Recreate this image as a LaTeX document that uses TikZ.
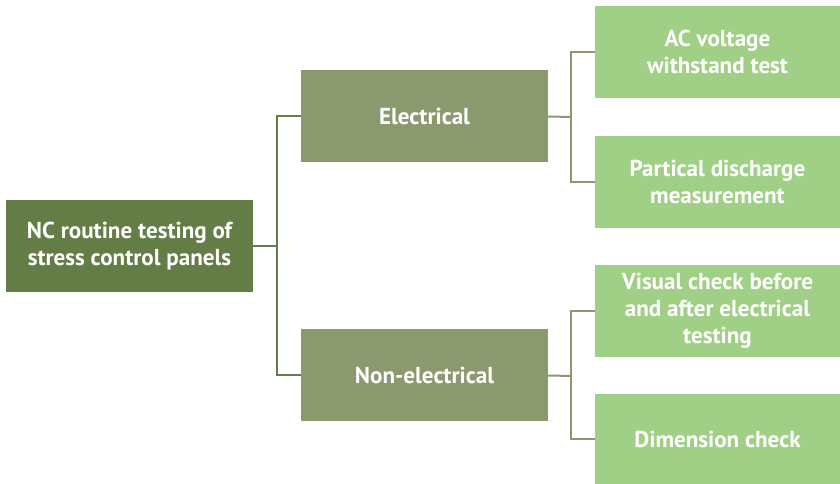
\documentclass[tikz,border=0pt]{standalone}
\usepackage{fontspec}
\setmainfont{PT Sans}
\usepackage{xcolor}
\usepackage{tikz}

\definecolor{rootgreen}{RGB}{100,124,69}
\definecolor{midgreen}{RGB}{138,154,110}
\definecolor{leafgreen}{RGB}{160,207,134}

\tikzset{
  box/.style={rectangle, inner sep=0pt, outer sep=0pt, text=white,
    font=\bfseries\fontsize{17.3}{20.3}\selectfont, align=center,
    minimum width=185.25pt, minimum height=69pt},
  rootbox/.style={box, fill=rootgreen},
  midbox/.style={box, fill=midgreen},
  leafbox/.style={box, fill=leafgreen, minimum width=183.75pt},
  darkline/.style={draw=rootgreen, line width=1.5pt},
  lightline/.style={draw=midgreen, line width=1.5pt}
}

\begin{document}
\begin{tikzpicture}[x=0.75pt, y=-0.75pt]
\useasboundingbox (0,0) rectangle (840,484);
%draw boxes
\node[rootbox] (root) at (129.5,246) {NC routine testing of\\stress control panels};
\node[midbox] (elec) at (424.5,116.5) {Electrical};
\node[midbox] (nonelec) at (424.5,375.5) {Non-electrical};
\node[leafbox] (ac) at (717.5,52) {AC voltage\\withstand test};
\node[leafbox] (pd) at (717.5,182) {Partical discharge\\measurement};
\node[leafbox] (vis) at (717.5,311) {Visual check before\\and after electrical\\testing};
\node[leafbox, minimum height=67.5pt] (dim) at (717.5,439) {Dimension check};
%draw joints
\coordinate (jroot) at (277,246);
\coordinate (jelec) at (571,117);
\coordinate (jnon) at (571,376);
%draw connectors
\draw[darkline] (root.east) -- (jroot);
\draw[darkline] (elec.west) -| (jroot);
\draw[darkline] (nonelec.west) -| (jroot);
\draw[lightline] (elec.east) -- (jelec);
\draw[lightline] (ac.west) -| (jelec);
\draw[lightline] (pd.west) -| (jelec);
\draw[lightline] (nonelec.east) -- (jnon);
\draw[lightline] (vis.west) -| (jnon);
\draw[lightline] (dim.west) -| (jnon);
\end{tikzpicture}
\end{document}
